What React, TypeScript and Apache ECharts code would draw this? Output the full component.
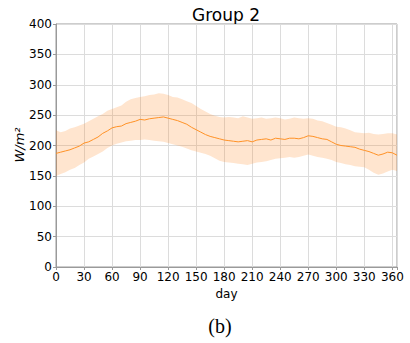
import React, { useEffect, useRef } from "react";
import * as echarts from "echarts";

// Daily irradiance profile for Group 2, sampled every 5 days.
const days = [
  0, 5, 10, 15, 20, 25, 30, 35, 40, 45, 50, 55, 60, 65, 70, 75, 80, 85, 90, 95,
  100, 105, 110, 115, 120, 125, 130, 135, 140, 145, 150, 155, 160, 165, 170, 175,
  180, 185, 190, 195, 200, 205, 210, 215, 220, 225, 230, 235, 240, 245, 250, 255,
  260, 265, 270, 275, 280, 285, 290, 295, 300, 305, 310, 315, 320, 325, 330, 335,
  340, 345, 350, 355, 360, 365,
];

const meanValues = [
  187, 189, 191, 193, 196, 199, 204, 206, 210, 214, 220, 224, 229, 231, 232, 236,
  238, 240, 243, 242, 244, 245, 246, 247, 245, 243, 241, 238, 235, 230, 226, 222,
  218, 215, 213, 211, 209, 208, 207, 206, 207, 208, 206, 209, 210, 211, 209, 212,
  211, 210, 212, 212, 211, 213, 216, 215, 213, 211, 210, 206, 202, 200, 199, 198,
  197, 194, 192, 190, 187, 184, 186, 189, 188, 184,
];

const upperValues = [
  225, 222, 224, 228, 230, 233, 236, 240, 244, 248, 252, 257, 260, 263, 266, 272,
  276, 278, 280, 281, 283, 284, 286, 285, 283, 280, 279, 276, 273, 270, 265, 260,
  256, 252, 249, 247, 246, 247, 246, 245, 248, 246, 244, 245, 246, 244, 245, 246,
  245, 243, 244, 246, 245, 244, 245, 244, 241, 240, 237, 234, 231, 230, 228, 225,
  222, 221, 220, 221, 219, 218, 219, 220, 220, 218,
];

const lowerValues = [
  150, 153, 156, 160, 163, 168, 172, 178, 182, 186, 190, 196, 200, 203, 205, 207,
  208, 209, 209, 210, 209, 208, 207, 206, 204, 202, 200, 198, 195, 192, 190, 188,
  186, 183, 179, 175, 173, 172, 171, 170, 169, 168, 170, 172, 173, 174, 176, 178,
  179, 180, 181, 180, 181, 183, 185, 183, 181, 180, 178, 176, 173, 171, 169, 168,
  166, 165, 164, 160, 155, 152, 154, 157, 160, 158,
];

const xTicks = [0, 30, 60, 90, 120, 150, 180, 210, 240, 270, 300, 330, 360];
const yTicks = [0, 50, 100, 150, 200, 250, 300, 350, 400];

const FONT = "DejaVu Sans";

export default function App() {
  const ref = useRef<HTMLDivElement>(null);

  useEffect(() => {
    if (!ref.current) return;
    const chart = echarts.init(ref.current, undefined, { renderer: "svg" });

    const bandData = days.map((d, i) => [d, lowerValues[i], upperValues[i]]);
    const meanData = days.map((d, i) => [d, meanValues[i]]);

    // Spread between the lower and upper envelope, drawn as one polygon.
    const renderBand = (params: any, api: any) => {
      if (params.dataIndex !== 0) return null;
      const top = days.map((d, i) => api.coord([d, upperValues[i]]));
      const bottom = days
        .map((d, i) => api.coord([d, lowerValues[i]]))
        .reverse();
      return {
        type: "polygon",
        shape: { points: top.concat(bottom) },
        style: { fill: "rgba(255,127,14,0.2)" },
        silent: true,
      };
    };

    chart.setOption({
      animation: false,
      backgroundColor: "#ffffff",
      grid: {
        left: 56,
        right: 13,
        top: 24,
        bottom: 76,
        show: true,
        borderColor: "#9a9a9a",
        borderWidth: 1,
      },
      xAxis: {
        type: "value",
        min: 0,
        max: 365,
        interval: 30,
        axisLine: { show: true, lineStyle: { color: "#9a9a9a" } },
        axisTick: { show: true, length: 3, lineStyle: { color: "#9a9a9a" } },
        splitLine: { show: true, lineStyle: { color: "#dcdcdc", width: 1 } },
        axisLabel: {
          fontFamily: FONT,
          fontSize: 12,
          color: "#000",
          margin: 4,
          formatter: (v: number) => (xTicks.includes(v) ? String(v) : ""),
        },
        name: "day",
        nameLocation: "middle",
        nameGap: 19,
        nameTextStyle: { fontFamily: FONT, fontSize: 12, color: "#000" },
      },
      yAxis: {
        type: "value",
        min: 0,
        max: 400,
        interval: 50,
        axisLine: { show: true, lineStyle: { color: "#9a9a9a" } },
        axisTick: { show: true, length: 3, lineStyle: { color: "#9a9a9a" } },
        splitLine: { show: true, lineStyle: { color: "#dcdcdc", width: 1 } },
        axisLabel: {
          fontFamily: FONT,
          fontSize: 12,
          color: "#000",
          margin: 4,
          formatter: (v: number) => (yTicks.includes(v) ? String(v) : ""),
        },
      },
      graphic: [
        {
          type: "text",
          x: 226,
          y: 15,
          style: {
            text: "Group 2",
            fontFamily: FONT,
            fontSize: 17,
            fill: "#000",
            align: "center",
            verticalAlign: "middle",
          },
        },
        {
          type: "text",
          x: 19,
          y: 145,
          rotation: Math.PI / 2,
          style: {
            text: "W/m²",
            fontFamily: FONT,
            fontStyle: "italic",
            fontSize: 13,
            fill: "#000",
            align: "center",
            verticalAlign: "middle",
          },
        },
        {
          type: "text",
          x: 220,
          y: 326,
          style: {
            text: "(b)",
            fontFamily: "Liberation Serif",
            fontSize: 20,
            fill: "#000",
            align: "center",
            verticalAlign: "middle",
          },
        },
      ],
      series: [
        {
          type: "custom",
          data: bandData,
          encode: { x: 0, y: [1, 2] },
          renderItem: renderBand,
          silent: true,
          z: 1,
        },
        {
          type: "line",
          data: meanData,
          symbol: "none",
          lineStyle: { color: "#ff9226", width: 1 },
          silent: true,
          z: 3,
        },
      ],
    });

    return () => chart.dispose();
  }, []);

  return (
    <div
      ref={ref}
      style={{ position: "absolute", left: 0, top: 0, width: 410, height: 343 }}
    />
  );
}
